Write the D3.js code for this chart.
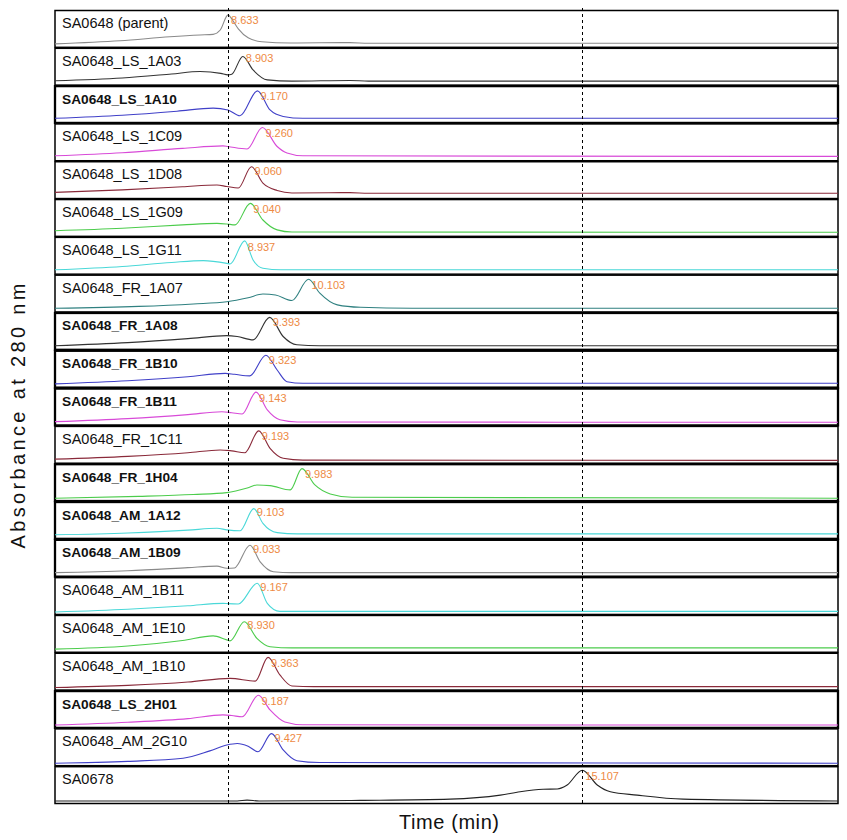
<!DOCTYPE html>
<html>
<head>
<meta charset="utf-8">
<script src="https://cdn.jsdelivr.net/npm/d3@7/dist/d3.min.js"></script>
<style>
  html, body { margin: 0; padding: 0; background: #fff; }
  svg { display: block; }
</style>
</head>
<body>
<svg id="chart" width="847" height="840"></svg>
<script>
// ---- data ----
const samples = [
  "SA0648 (parent)", "SA0648_LS_1A03", "SA0648_LS_1A10", "SA0648_LS_1C09",
  "SA0648_LS_1D08", "SA0648_LS_1G09", "SA0648_LS_1G11", "SA0648_FR_1A07",
  "SA0648_FR_1A08", "SA0648_FR_1B10", "SA0648_FR_1B11", "SA0648_FR_1C11",
  "SA0648_FR_1H04", "SA0648_AM_1A12", "SA0648_AM_1B09", "SA0648_AM_1B11",
  "SA0648_AM_1E10", "SA0648_AM_1B10", "SA0648_LS_2H01", "SA0648_AM_2G10",
  "SA0678"
];
const boldSamples = [
  "SA0648_LS_1A10", "SA0648_FR_1A08", "SA0648_FR_1B10", "SA0648_FR_1B11",
  "SA0648_FR_1H04", "SA0648_AM_1A12", "SA0648_AM_1B09", "SA0648_LS_2H01"
];
const peakTimes = [
  8.633, 8.903, 9.170, 9.260, 9.060, 9.040, 8.937, 10.103, 9.393, 9.323, 9.143,
  9.193, 9.983, 9.103, 9.033, 9.167, 8.930, 9.363, 9.187, 9.427, 15.107
];
const peakLabels = [
  "8.633", "8.903", "9.170", "9.260", "9.060", "9.040", "8.937", "10.103", "9.393",
  "9.323", "9.143", "9.193", "9.983", "9.103", "9.033", "9.167", "8.930", "9.363",
  "9.187", "9.427", "15.107"
];
const refTimes = [8.633, 15.107];
const timeDomain = [5.47, 19.78];

// traces: [time (min), relative absorbance]
const traces = [
  [[5.47,0.03],[6.66,0.13],[7.57,0.26],[8.12,0.32],[8.36,0.34],[8.49,0.48],[8.633,0.97],[8.71,0.81],[8.82,0.52],[9.0,0.23],[9.25,0.1],[9.77,0.06],[10.86,0.07],[11.2,0.05],[19.78,0.05]],
  [[5.47,0.06],[6.7,0.15],[7.6,0.28],[8.12,0.36],[8.5,0.3],[8.63,0.25],[8.7,0.27],[8.903,0.85],[9.09,0.41],[9.35,0.09],[9.8,0.05],[10.86,0.07],[11.2,0.05],[19.78,0.05]],
  [[5.47,0.07],[6.7,0.17],[7.7,0.3],[8.36,0.4],[8.63,0.34],[8.85,0.15],[9.17,0.96],[9.4,0.34],[9.64,0.13],[10.0,0.07],[19.78,0.07]],
  [[5.47,0.08],[6.7,0.18],[7.8,0.32],[8.54,0.4],[8.63,0.38],[8.98,0.3],[9.26,1.0],[9.53,0.38],[9.71,0.17],[10.0,0.08],[19.78,0.06]],
  [[5.47,0.12],[6.7,0.2],[7.8,0.3],[8.43,0.36],[8.61,0.31],[8.82,0.26],[9.06,0.95],[9.27,0.42],[9.53,0.18],[9.8,0.1],[10.86,0.11],[11.2,0.09],[19.78,0.09]],
  [[5.47,0.1],[6.7,0.18],[7.8,0.29],[8.43,0.34],[8.61,0.32],[8.76,0.29],[9.04,0.99],[9.27,0.45],[9.53,0.13],[9.8,0.06],[19.78,0.05]],
  [[5.47,0.06],[6.7,0.17],[7.6,0.3],[8.18,0.36],[8.61,0.27],[8.67,0.25],[8.937,1.0],[9.09,0.38],[9.27,0.11],[9.6,0.06],[19.78,0.06]],
  [[5.47,0.04],[7.0,0.1],[8.0,0.18],[8.61,0.25],[9.0,0.38],[9.27,0.5],[9.5,0.47],[9.8,0.29],[10.103,0.98],[10.31,0.53],[10.63,0.15],[11.05,0.07],[12.0,0.04],[19.78,0.04]],
  [[5.47,0.05],[6.8,0.15],[7.9,0.28],[8.61,0.38],[8.8,0.35],[9.09,0.24],[9.393,0.97],[9.64,0.35],[9.89,0.08],[10.3,0.05],[19.78,0.05]],
  [[5.47,0.04],[6.8,0.14],[7.9,0.27],[8.58,0.38],[8.75,0.35],[9.03,0.3],[9.323,0.97],[9.53,0.49],[9.71,0.11],[10.0,0.06],[19.78,0.06]],
  [[5.47,0.04],[6.8,0.14],[7.9,0.27],[8.52,0.36],[8.7,0.33],[8.89,0.29],[9.143,1.0],[9.35,0.42],[9.58,0.1],[9.9,0.03],[19.78,0.02]],
  [[5.47,0.05],[6.8,0.14],[7.9,0.26],[8.49,0.35],[8.7,0.32],[8.94,0.26],[9.193,0.97],[9.4,0.4],[9.64,0.08],[10.0,0.02],[19.78,0.01]],
  [[5.47,0.01],[7.0,0.07],[8.0,0.13],[8.61,0.19],[9.0,0.35],[9.16,0.44],[9.4,0.42],[9.77,0.28],[9.983,0.97],[10.22,0.44],[10.5,0.15],[10.9,0.04],[19.78,0.01]],
  [[5.47,0.05],[6.8,0.11],[7.9,0.2],[8.43,0.26],[8.61,0.21],[8.85,0.18],[9.103,0.9],[9.27,0.42],[9.53,0.12],[9.9,0.08],[19.78,0.08]],
  [[5.47,0.05],[6.8,0.11],[7.9,0.21],[8.43,0.26],[8.61,0.19],[8.75,0.2],[9.033,0.94],[9.22,0.4],[9.46,0.08],[9.8,0.05],[19.78,0.05]],
  [[5.47,0.0],[6.8,0.09],[7.9,0.2],[8.54,0.28],[8.63,0.27],[8.82,0.26],[9.167,0.93],[9.35,0.28],[9.58,0.02],[19.78,0.02]],
  [[5.47,0.02],[6.8,0.12],[7.8,0.3],[8.36,0.45],[8.61,0.32],[8.67,0.29],[8.93,0.91],[9.16,0.37],[9.4,0.1],[9.8,0.06],[19.78,0.06]],
  [[5.47,0.0],[6.8,0.07],[7.9,0.18],[8.67,0.3],[9.13,0.21],[9.363,0.98],[9.58,0.41],[9.8,0.05],[10.2,0.03],[19.78,0.03]],
  [[5.47,0.01],[6.8,0.1],[7.9,0.22],[8.54,0.34],[8.7,0.32],[8.89,0.28],[9.187,0.98],[9.4,0.5],[9.67,0.11],[10.0,0.02],[19.78,0.01]],
  [[5.47,0.0],[6.8,0.06],[7.81,0.16],[8.3,0.4],[8.61,0.59],[8.8,0.64],[9.0,0.55],[9.18,0.37],[9.427,0.96],[9.64,0.43],[9.89,0.08],[10.3,0.02],[19.78,0.0]],
  [[5.47,0.0],[8.8,0.0],[8.98,0.03],[9.2,0.0],[11.05,0.02],[12.69,0.06],[13.61,0.19],[13.97,0.3],[14.39,0.38],[14.65,0.39],[14.83,0.52],[15.107,1.0],[15.38,0.52],[15.62,0.3],[16.11,0.19],[16.95,0.06],[19.78,0.0]]
];

// ---- styles ----
const traceColors = [
  "#8a8a8a", "#333333", "#4040c8", "#d84ad8", "#8a2a3a", "#4ccc4c", "#4ad8d8",
  "#2f8080", "#333333", "#4040c8", "#d84ad8", "#8a2a3a", "#4ccc4c", "#4ad8d8",
  "#8a8a8a", "#4ad8d8", "#4ccc4c", "#8a2a3a", "#d84ad8", "#4040c8", "#222222"
];
const labelColor = "#ee8a44";

// ---- layout ----
const svg = d3.select("#chart");
const plotLeft = 55, plotRight = 838, plotTop = 10, plotBottom = 804;

const x = d3.scaleLinear().domain(timeDomain).range([plotLeft, plotRight]);
const band = d3.scaleBand().domain(samples).range([plotTop, plotBottom]).paddingInner(0);
const h = band.bandwidth();

const panels = svg.append("g").selectAll("g.panel")
  .data(samples.map((name, i) => ({name, i, trace: traces[i], peak: peakTimes[i], label: peakLabels[i], color: traceColors[i], bold: boldSamples.includes(name)})))
  .join("g")
  .attr("class", "panel")
  .attr("transform", d => `translate(0,${band(d.name)})`);

panels.append("rect")
  .attr("x", plotLeft)
  .attr("y", 0.5)
  .attr("width", plotRight - plotLeft)
  .attr("height", h - 1)
  .attr("fill", "#fff")
  .attr("stroke", "#000")
  .attr("stroke-width", d => d.bold ? 2.3 : 1.5);

panels.each(function(d) {
  const g = d3.select(this);
  const y = d3.scaleLinear().domain([0, 1]).range([h - 3, 4]);
  const line = d3.line()
    .x(p => x(p[0]))
    .y(p => y(p[1]))
    .curve(d3.curveMonotoneX);
  g.append("path")
    .attr("d", line(d.trace))
    .attr("fill", "none")
    .attr("stroke", d.color)
    .attr("stroke-width", 1.1);
  g.append("text")
    .attr("x", x(d.peak) + 3)
    .attr("y", 14)
    .attr("fill", labelColor)
    .attr("font-family", "Liberation Sans, Arial, sans-serif")
    .attr("font-size", 11)
    .text(d.label);
  g.append("text")
    .attr("x", 62)
    .attr("y", 18)
    .attr("fill", "#111")
    .attr("font-family", "Liberation Sans, Arial, sans-serif")
    .attr("font-size", d.bold ? 13.7 : 14.5)
    .attr("font-weight", d.bold ? "bold" : "normal")
    .text(d.name);
});

// reference dashed lines
svg.append("g").selectAll("line")
  .data(refTimes)
  .join("line")
  .attr("x1", d => Math.round(x(d)) + 0.5)
  .attr("x2", d => Math.round(x(d)) + 0.5)
  .attr("y1", 8)
  .attr("y2", 805)
  .attr("stroke", "#000")
  .attr("stroke-width", 1)
  .attr("stroke-dasharray", "3,3");

// axis titles
svg.append("text")
  .attr("transform", "translate(25,416) rotate(-90)")
  .attr("text-anchor", "middle")
  .attr("font-family", "Liberation Sans, Arial, sans-serif")
  .attr("font-size", 20)
  .attr("fill", "#111")
  .attr("textLength", 265)
  .attr("lengthAdjust", "spacing")
  .text("Absorbance at 280 nm");

svg.append("text")
  .attr("x", 449)
  .attr("y", 829)
  .attr("text-anchor", "middle")
  .attr("font-family", "Liberation Sans, Arial, sans-serif")
  .attr("font-size", 20)
  .attr("fill", "#111")
  .attr("textLength", 100)
  .attr("lengthAdjust", "spacing")
  .text("Time (min)");
</script>
</body>
</html>
